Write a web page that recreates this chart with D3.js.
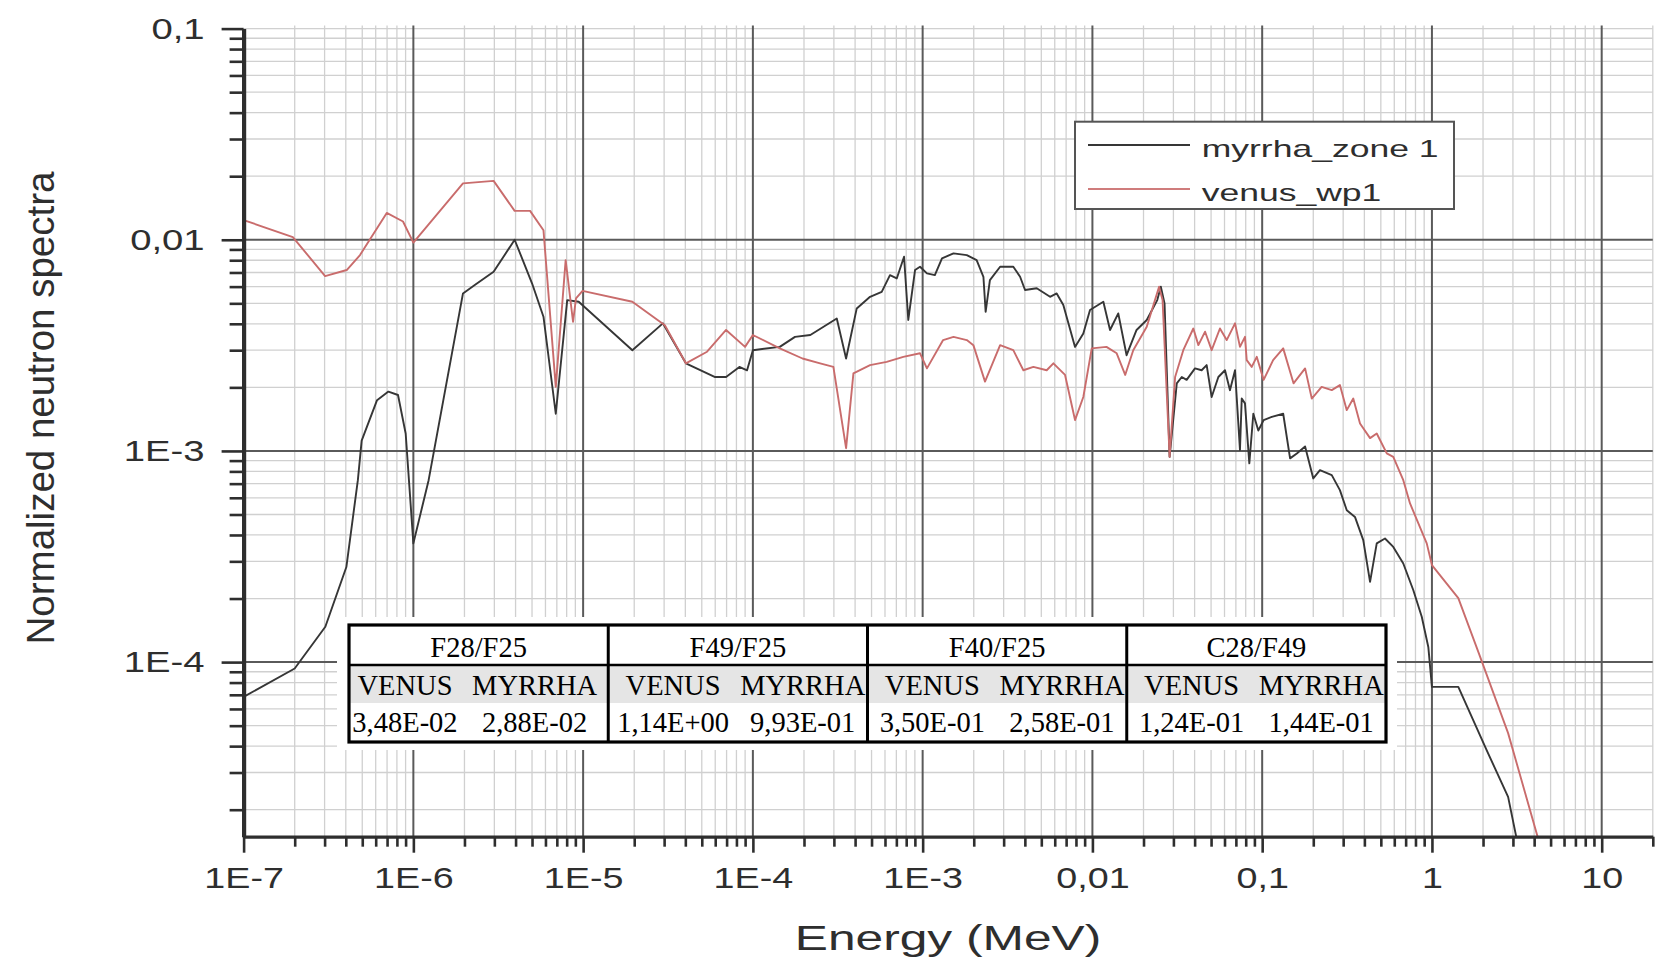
<!DOCTYPE html>
<html>
<head>
<meta charset="utf-8">
<script src="https://cdn.jsdelivr.net/npm/d3@7"></script>
<style>
  html, body { margin: 0; padding: 0; background: #fff; }
  svg { display: block; }
</style>
</head>
<body>
<svg id="chart" width="1661" height="960"></svg>
<script>
// ---- Spectrum data: energy (MeV) and normalized flux ----
const myrrhaEnergy = [
  1.00e-7, 2.00e-7, 3.03e-7, 4.03e-7, 4.71e-7, 4.96e-7, 6.11e-7, 7.13e-7, 8.12e-7, 9.01e-7,
  1.00e-6, 1.23e-6, 1.96e-6, 2.30e-6, 2.97e-6, 3.95e-6, 5.00e-6, 5.84e-6, 6.90e-6, 8.06e-6,
  9.42e-6, 1.95e-5, 2.95e-5, 4.03e-5, 5.95e-5, 6.95e-5, 8.33e-5, 9.24e-5, 1.00e-4, 1.44e-4,
  1.77e-4, 2.18e-4, 3.12e-4, 3.54e-4, 4.09e-4, 4.90e-4, 5.74e-4, 6.42e-4, 7.04e-4, 7.77e-4,
  8.23e-4, 9.02e-4, 9.65e-4, 1.06e-3, 1.18e-3, 1.30e-3, 1.52e-3, 1.82e-3, 2.08e-3, 2.28e-3,
  2.35e-3, 2.49e-3, 2.86e-3, 3.42e-3, 3.75e-3, 4.01e-3, 4.70e-3, 5.63e-3, 6.16e-3, 6.74e-3,
  7.90e-3, 8.84e-3, 9.68e-3, 1.16e-2, 1.27e-2, 1.42e-2, 1.59e-2, 1.82e-2, 2.09e-2, 2.41e-2,
  2.53e-2, 2.66e-2, 2.85e-2, 3.14e-2, 3.36e-2, 3.59e-2, 4.02e-2, 4.40e-2, 4.71e-2, 5.04e-2,
  5.52e-2, 6.04e-2, 6.46e-2, 6.92e-2, 7.40e-2, 7.58e-2, 7.92e-2, 8.40e-2, 8.87e-2, 9.49e-2,
  1.02e-1, 1.14e-1, 1.33e-1, 1.46e-1, 1.60e-1, 1.79e-1, 2.00e-1, 2.19e-1, 2.57e-1, 2.87e-1,
  3.15e-1, 3.52e-1, 3.94e-1, 4.32e-1, 4.73e-1, 5.29e-1, 5.92e-1, 6.78e-1, 7.77e-1, 8.71e-1,
  9.52e-1, 1.00, 1.43, 2.10, 2.81, 3.17
];
const myrrhaFlux = [
  6.84e-5, 9.33e-5, 1.47e-4, 2.82e-4, 7.27e-4, 1.12e-3, 1.74e-3, 1.91e-3, 1.84e-3, 1.21e-3,
  3.65e-4, 7.27e-4, 5.57e-3, 6.10e-3, 7.05e-3, 1.00e-2, 6.22e-3, 4.32e-3, 1.50e-3, 5.18e-3,
  5.09e-3, 3.00e-3, 4.02e-3, 2.60e-3, 2.24e-3, 2.24e-3, 2.50e-3, 2.41e-3, 3.00e-3, 3.11e-3,
  3.47e-3, 3.54e-3, 4.24e-3, 2.74e-3, 4.73e-3, 5.37e-3, 5.67e-3, 6.80e-3, 6.56e-3, 8.31e-3,
  4.17e-3, 7.19e-3, 7.45e-3, 6.93e-3, 6.80e-3, 8.17e-3, 8.62e-3, 8.46e-3, 8.01e-3, 6.68e-3,
  4.56e-3, 6.44e-3, 7.45e-3, 7.45e-3, 6.68e-3, 5.78e-3, 5.89e-3, 5.37e-3, 5.57e-3, 4.91e-3,
  3.11e-3, 3.60e-3, 4.65e-3, 5.09e-3, 3.74e-3, 4.48e-3, 2.84e-3, 3.74e-3, 4.17e-3, 5.18e-3,
  5.99e-3, 5.00e-3, 9.38e-4, 2.09e-3, 2.24e-3, 2.17e-3, 2.46e-3, 2.41e-3, 2.55e-3, 1.80e-3,
  2.24e-3, 2.41e-3, 1.94e-3, 2.41e-3, 1.01e-3, 1.77e-3, 1.68e-3, 8.73e-4, 1.50e-3, 1.25e-3,
  1.40e-3, 1.45e-3, 1.50e-3, 9.22e-4, 9.73e-4, 1.05e-3, 7.41e-4, 8.11e-4, 7.68e-4, 6.52e-4,
  5.24e-4, 4.87e-4, 3.78e-4, 2.40e-4, 3.65e-4, 3.85e-4, 3.51e-4, 2.93e-4, 2.19e-4, 1.64e-4,
  1.18e-4, 7.63e-5, 7.63e-5, 3.83e-5, 2.30e-5, 1.43e-5
];
const venusEnergy = [
  1.00e-7, 1.95e-7, 3.02e-7, 4.05e-7, 4.85e-7, 6.97e-7, 8.69e-7, 1.00e-6, 1.96e-6, 2.97e-6,
  3.95e-6, 4.87e-6, 5.84e-6, 6.90e-6, 7.89e-6, 8.72e-6, 9.08e-6, 9.92e-6, 1.95e-5, 3.03e-5,
  4.03e-5, 5.37e-5, 6.95e-5, 8.99e-5, 1.00e-4, 1.44e-4, 1.96e-4, 2.49e-4, 2.98e-4, 3.54e-4,
  3.91e-4, 4.90e-4, 6.14e-4, 7.69e-4, 9.65e-4, 1.06e-3, 1.32e-3, 1.52e-3, 1.82e-3, 1.99e-3,
  2.33e-3, 2.86e-3, 3.42e-3, 3.92e-3, 4.49e-3, 5.38e-3, 5.89e-3, 6.90e-3, 7.90e-3, 8.84e-3,
  9.91e-3, 1.21e-2, 1.39e-2, 1.56e-2, 1.74e-2, 2.09e-2, 2.47e-2, 2.59e-2, 2.85e-2, 3.07e-2,
  3.43e-2, 3.93e-2, 4.21e-2, 4.61e-2, 5.04e-2, 5.64e-2, 6.18e-2, 6.92e-2, 7.40e-2, 7.92e-2,
  8.11e-2, 8.68e-2, 9.29e-2, 1.02e-1, 1.16e-1, 1.33e-1, 1.53e-1, 1.79e-1, 1.96e-1, 2.24e-1,
  2.57e-1, 2.87e-1, 3.15e-1, 3.44e-1, 3.77e-1, 4.32e-1, 4.73e-1, 5.42e-1, 5.92e-1, 6.78e-1,
  7.43e-1, 8.32e-1, 9.32e-1, 1.00, 1.43, 1.89, 2.81, 4.33
];
const venusFlux = [
  1.24e-2, 1.03e-2, 6.73e-3, 7.19e-3, 8.46e-3, 1.34e-2, 1.22e-2, 9.70e-3, 1.85e-2, 1.90e-2,
  1.37e-2, 1.37e-2, 1.11e-2, 2.01e-3, 8.01e-3, 4.09e-3, 5.28e-3, 5.73e-3, 5.09e-3, 3.94e-3,
  2.60e-3, 2.95e-3, 3.74e-3, 3.11e-3, 3.54e-3, 3.06e-3, 2.74e-3, 2.60e-3, 2.50e-3, 1.03e-3,
  2.33e-3, 2.55e-3, 2.64e-3, 2.79e-3, 2.90e-3, 2.46e-3, 3.35e-3, 3.47e-3, 3.35e-3, 3.17e-3,
  2.13e-3, 3.17e-3, 3.00e-3, 2.41e-3, 2.50e-3, 2.41e-3, 2.60e-3, 2.29e-3, 1.40e-3, 1.80e-3,
  3.06e-3, 3.11e-3, 2.90e-3, 2.29e-3, 3.00e-3, 3.87e-3, 5.99e-3, 5.18e-3, 9.38e-4, 2.24e-3,
  3.00e-3, 3.80e-3, 3.17e-3, 3.67e-3, 3.00e-3, 3.80e-3, 3.35e-3, 4.02e-3, 3.11e-3, 3.47e-3,
  2.69e-3, 2.50e-3, 2.79e-3, 2.17e-3, 2.69e-3, 3.06e-3, 2.09e-3, 2.46e-3, 1.77e-3, 2.01e-3,
  1.94e-3, 2.05e-3, 1.56e-3, 1.77e-3, 1.35e-3, 1.15e-3, 1.21e-3, 9.73e-4, 9.38e-4, 7.27e-4,
  5.64e-4, 4.54e-4, 3.65e-4, 2.88e-4, 2.01e-4, 1.10e-4, 4.61e-5, 1.36e-5
];

// ---- Axis ticks ----
const xTickValues = [1e-7, 1e-6, 1e-5, 1e-4, 1e-3, 1e-2, 1e-1, 1, 10];
const xTickLabels = ["1E-7", "1E-6", "1E-5", "1E-4", "1E-3", "0,01", "0,1", "1", "10"];
const yTickValues = [1e-4, 1e-3, 1e-2, 1e-1];
const yTickLabels = ["1E-4", "1E-3", "0,01", "0,1"];

// ---- Legend ----
const seriesNames = ["myrrha_zone 1", "venus_wp1"];

// ---- Spectral index table ----
const ratioNames = ["F28/F25", "F49/F25", "F40/F25", "C28/F49"];
const tableColumnNames = ["VENUS", "MYRRHA"];
const venusRatios = [3.48e-2, 1.14e0, 3.50e-1, 1.24e-1];
const myrrhaRatios = [2.88e-2, 9.93e-1, 2.58e-1, 1.44e-1];

// ================================================================
const svg = d3.select("#chart");
const SANS = "'Liberation Sans', Arial, Helvetica, sans-serif";
const SERIF = "'Liberation Serif', 'Times New Roman', serif";
const INK = "#2e2e2e";

const plot = { left: 243.6, right: 1652.8, top: 28.6, bottom: 836.7 };
const x = d3.scaleLog().domain([1e-7, 20]).range([plot.left, plot.right]);
const y = d3.scaleLog().domain([1.49e-5, 0.1]).range([plot.bottom, plot.top]);

function minorTicks(scale) {
  const [lo, hi] = scale.domain();
  const out = [];
  for (let e = Math.floor(Math.log10(lo)); e <= Math.ceil(Math.log10(hi)); e++) {
    for (let m = 2; m <= 9; m++) {
      const v = m * Math.pow(10, e);
      if (v >= lo * 0.999 && v <= hi * 1.001) out.push(v);
    }
  }
  return out;
}
const xMinor = minorTicks(x);
const yMinor = minorTicks(y);

// ---- grid ----
const grid = svg.append("g");
grid.selectAll("line.vmin").data(xMinor).join("line")
  .attr("x1", d => x(d)).attr("x2", d => x(d))
  .attr("y1", plot.top - 3).attr("y2", plot.bottom)
  .attr("stroke", "#d0d0d0").attr("stroke-width", 1.3);
grid.selectAll("line.hmin").data(yMinor.concat([0.1])).join("line")
  .attr("x1", plot.left).attr("x2", plot.right)
  .attr("y1", d => y(d)).attr("y2", d => y(d))
  .attr("stroke", "#d0d0d0").attr("stroke-width", 1.3);
grid.selectAll("line.vmaj").data(xTickValues.slice(1)).join("line")
  .attr("x1", d => x(d)).attr("x2", d => x(d))
  .attr("y1", plot.top - 3).attr("y2", plot.bottom)
  .attr("stroke", "#5a5a5a").attr("stroke-width", 2);
grid.selectAll("line.hmaj").data(yTickValues.slice(0, 3)).join("line")
  .attr("x1", plot.left).attr("x2", plot.right)
  .attr("y1", d => y(d)).attr("y2", d => y(d))
  .attr("stroke", "#5a5a5a").attr("stroke-width", 2);

// ---- curves ----
svg.append("clipPath").attr("id", "plotClip")
  .append("rect")
  .attr("x", plot.left).attr("y", plot.top - 4)
  .attr("width", plot.right - plot.left).attr("height", plot.bottom - plot.top + 4);

const line = d3.line().x(d => x(d[0])).y(d => y(d[1]));
const curves = svg.append("g").attr("clip-path", "url(#plotClip)");
curves.append("path")
  .datum(d3.zip(myrrhaEnergy, myrrhaFlux))
  .attr("d", line).attr("fill", "none")
  .attr("stroke", "#363636").attr("stroke-width", 1.9).attr("stroke-linejoin", "round");
curves.append("path")
  .datum(d3.zip(venusEnergy, venusFlux))
  .attr("d", line).attr("fill", "none")
  .attr("stroke", "#c96c6c").attr("stroke-width", 1.9).attr("stroke-linejoin", "round");

// ---- axes ----
const yAxisG = svg.append("g").attr("transform", `translate(${plot.left},0)`);
yAxisG.call(d3.axisLeft(y).tickValues(yMinor).tickSize(14).tickSizeOuter(0).tickFormat(""))
  .call(g => g.select(".domain").remove());
const yMajorG = svg.append("g").attr("transform", `translate(${plot.left},0)`);
yMajorG.call(d3.axisLeft(y).tickValues(yTickValues).tickSize(22).tickSizeOuter(0)
  .tickFormat((d, i) => yTickLabels[i]));
yMajorG.select(".domain").attr("stroke-width", 4.2);
yMajorG.selectAll(".tick text")
  .attr("x", 0).attr("dy", "0.34em")
  .attr("transform", "translate(-39,0) scale(1.32,1)");

const xAxisG = svg.append("g").attr("transform", `translate(0,${plot.bottom})`);
xAxisG.call(d3.axisBottom(x).tickValues(xMinor).tickSize(10).tickSizeOuter(0).tickFormat(""))
  .call(g => g.select(".domain").remove());
const xMajorG = svg.append("g").attr("transform", `translate(0,${plot.bottom})`);
xMajorG.call(d3.axisBottom(x).tickValues(xTickValues).tickSize(16).tickSizeOuter(0)
  .tickFormat((d, i) => xTickLabels[i]));
xMajorG.select(".domain").attr("stroke-width", 3.2);
xMajorG.selectAll(".tick text")
  .attr("y", 51.3).attr("dy", 0)
  .attr("transform", "scale(1.3,1)");

[yAxisG, yMajorG, xAxisG, xMajorG].forEach(g => {
  g.attr("color", INK).attr("font-family", SANS).attr("font-size", 29);
  g.selectAll(".tick line").attr("stroke-width", 2.6);
  g.selectAll(".tick text").attr("fill", INK);
});

// ---- axis titles ----
svg.append("text")
  .attr("transform", "translate(948,950) scale(1.42,1)")
  .attr("text-anchor", "middle")
  .attr("font-family", SANS).attr("font-size", 35).attr("fill", INK)
  .text("Energy (MeV)");
svg.append("text")
  .attr("transform", "translate(54,408) rotate(-90)")
  .attr("text-anchor", "middle")
  .attr("font-family", SANS).attr("font-size", 38.5).attr("fill", INK)
  .text("Normalized neutron spectra");

// ---- legend ----
const legendColors = ["#363636", "#cf7c7c"];
const legend = svg.append("g");
legend.append("rect")
  .attr("x", 1075).attr("y", 121.7).attr("width", 379).attr("height", 87.3)
  .attr("fill", "#fff").attr("stroke", "#555").attr("stroke-width", 2);
const legendRow = d3.scalePoint().domain(seriesNames).range([145, 189]);
const items = legend.selectAll("g.item").data(seriesNames).join("g")
  .attr("transform", d => `translate(0,${legendRow(d)})`);
items.append("line")
  .attr("x1", 1088).attr("x2", 1190).attr("y1", 0).attr("y2", 0)
  .attr("stroke", (d, i) => legendColors[i]).attr("stroke-width", 2);
items.append("text")
  .attr("transform", "translate(1201.7,11.7) scale(1.48,1)")
  .attr("font-family", SANS).attr("font-size", 24).attr("fill", INK)
  .text(d => d);

// ---- spectral index table ----
function sciComma(v) {
  const [m, e] = v.toExponential(2).split("e");
  const n = +e;
  return m.replace(".", ",") + "E" + (n < 0 ? "-" : "+") + String(Math.abs(n)).padStart(2, "0");
}
const tbl = { left: 349, right: 1386, top: 625, head: 665, sub: 703, bottom: 742 };
const groupX = d3.scaleBand().domain(ratioNames).range([tbl.left, tbl.right]);
const subSplit = [0.432, 0.5, 0.5, 0.5];

const table = svg.append("g");
table.append("rect")
  .attr("x", 337).attr("y", 617).attr("width", 1060).attr("height", 133)
  .attr("fill", "#fff");
table.append("rect")
  .attr("x", tbl.left).attr("y", tbl.head + 1)
  .attr("width", tbl.right - tbl.left).attr("height", tbl.sub - tbl.head - 1)
  .attr("fill", "#e5e5e5");

const cols = table.selectAll("g.grp").data(ratioNames).join("g");
cols.append("text")
  .attr("x", d => groupX(d) + groupX.bandwidth() / 2).attr("y", 656.5)
  .attr("text-anchor", "middle")
  .attr("font-family", SERIF).attr("font-size", 28.5).attr("fill", "#000")
  .text(d => d);

ratioNames.forEach((name, i) => {
  const g0 = groupX(name), bw = groupX.bandwidth();
  const split = g0 + bw * subSplit[i];
  const cA = (g0 + split) / 2, cB = (split + g0 + bw) / 2;
  const vals = [venusRatios[i], myrrhaRatios[i]];
  [cA, cB].forEach((cx, j) => {
    table.append("text")
      .attr("x", cx).attr("y", 695)
      .attr("text-anchor", "middle")
      .attr("font-family", SERIF).attr("font-size", 28.5).attr("fill", "#000")
      .text(tableColumnNames[j]);
    table.append("text")
      .attr("x", cx).attr("y", 731.5)
      .attr("text-anchor", "middle")
      .attr("font-family", SERIF).attr("font-size", 28.5).attr("fill", "#000")
      .text(sciComma(vals[j]));
  });
});

table.append("line")
  .attr("x1", tbl.left).attr("x2", tbl.right).attr("y1", tbl.head).attr("y2", tbl.head)
  .attr("stroke", "#000").attr("stroke-width", 2.6);
table.selectAll("line.sep").data(ratioNames.slice(1)).join("line")
  .attr("x1", d => groupX(d)).attr("x2", d => groupX(d))
  .attr("y1", tbl.top).attr("y2", tbl.bottom)
  .attr("stroke", "#000").attr("stroke-width", 3);
table.append("rect")
  .attr("x", tbl.left).attr("y", tbl.top)
  .attr("width", tbl.right - tbl.left).attr("height", tbl.bottom - tbl.top)
  .attr("fill", "none").attr("stroke", "#000").attr("stroke-width", 3.2);
</script>
</body>
</html>
